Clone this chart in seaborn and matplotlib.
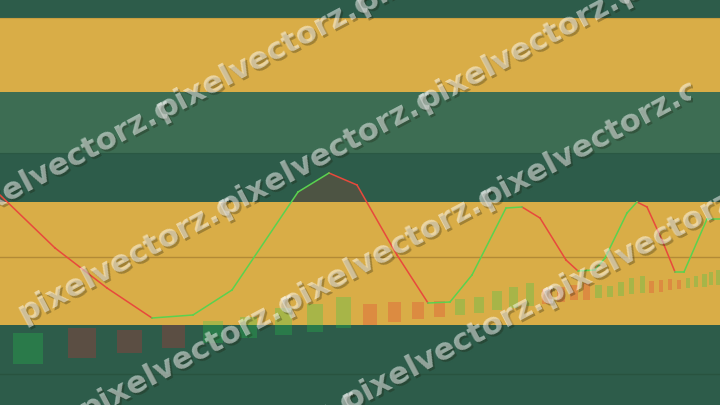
#%%
import numpy as np
import pandas as pd
import matplotlib
matplotlib.use('Agg')
import matplotlib.pyplot as plt
import matplotlib.transforms as mtransforms
from matplotlib.patches import Rectangle
import seaborn as sns

# linha de preço (dia, preço)
dias = [0.0, 5.5, 10.7, 15.2, 19.3, 23.2, 29.8, 32.9, 35.7, 39.7, 42.8, 45.0,
        47.2, 50.6, 52.2, 54.0, 56.6, 57.8, 59.5, 60.5, 62.7, 63.7, 64.7,
        66.2, 67.5, 68.4, 70.7, 72.0]
precos = [210, 157, 117, 87, 90, 115, 213, 232, 220, 150, 102, 103,
          130, 197, 198, 187, 145, 134, 135, 147, 192, 203, 198,
          165, 133, 133, 186, 186]

# barras de volume
vol_x = [2.8, 8.2, 12.95, 17.35, 21.3, 24.85, 28.35, 31.5, 34.35, 37.0, 39.45,
         41.8, 43.95, 46.0, 47.9, 49.7, 51.35, 53.0, 54.7, 56.1, 57.4, 58.65,
         59.85, 61.0, 62.1, 63.15, 64.25, 65.15, 66.1, 67.0, 67.9, 68.8, 69.6,
         70.45, 71.1, 71.8]
vol_w = [3.0, 2.8, 2.5, 2.3, 2.0, 1.7, 1.7, 1.6, 1.5, 1.4, 1.3, 1.2, 1.1, 1.0,
         1.0, 1.0, 0.9, 0.8, 1.0, 0.8, 0.8, 0.7, 0.7, 0.6, 0.6, 0.5, 0.5, 0.5,
         0.4, 0.4, 0.4, 0.4, 0.4, 0.5, 0.4, 0.4]
vol_base = [41, 47, 52, 57, 62, 67, 70, 73, 77, 80, 83, 86, 88, 90, 92, 95, 97,
            99, 101, 103, 105, 105, 107, 108, 109, 111, 112, 112, 113, 115, 116,
            117, 118, 118, 120, 120]
vol_topo = [72, 77, 75, 80, 84, 88, 97, 101, 108, 101, 103, 103, 104, 106, 108,
            114, 118, 122, 116, 118, 120, 122, 120, 119, 123, 127, 129, 124, 125,
            126, 125, 127, 129, 131, 133, 135]
vol_alta = [1, 0, 0, 0, 1, 1, 1, 1, 1, 0, 0, 0, 0, 1, 1, 1, 1, 1, 0, 0, 0, 0,
            1, 1, 1, 1, 1, 0, 0, 0, 0, 1, 1, 1, 1, 1]

# faixas de fundo
faixas_y = [405, 387, 313, 252, 203, 80, 0]
faixas_cor = ['#2d5c4a', '#d9ad47', '#3d6d53', '#2d5c4a', '#d9ad47', '#2d5c4a']
linhas_ref = [148, 31]
linhas_cor = ['#b38a36', '#28533f']
limite_area = 203

marca = 'pixelvectorz.com'

#%%
segs = []
for i in range(len(dias) - 1):
    sentido = 'alta' if precos[i + 1] >= precos[i] else 'baixa'
    segs.append((i, dias[i], precos[i], sentido))
    segs.append((i, dias[i + 1], precos[i + 1], sentido))
df_linha = pd.DataFrame(segs, columns=['seg', 'dia', 'preco', 'sentido'])

fig = plt.figure(figsize=(7.2, 4.05), dpi=100)
ax = fig.add_axes([0, 0, 1, 1])

for topo, base, cor in zip(faixas_y[:-1], faixas_y[1:], faixas_cor):
    ax.axhspan(base, topo, color=cor, lw=0, zorder=0)
for y, cor in zip(linhas_ref, linhas_cor):
    ax.axhline(y, color=cor, lw=1, zorder=1)
ax.axhline(faixas_y[1], color='#c99d3e', lw=0.8, zorder=1)
ax.axhline(faixas_y[3], color='#2a5843', lw=0.8, zorder=1)

p = np.array(precos)
ax.fill_between(dias, p, limite_area, where=p > limite_area, interpolate=True,
                color='#c0392b', alpha=0.22, lw=0, zorder=2)

cores_vol = ['#23cd4b' if a else '#e62832' for a in vol_alta]
alfas = [0.27 if a else 0.25 for a in vol_alta]
barras = ax.bar(vol_x, np.subtract(vol_topo, vol_base), width=vol_w,
                bottom=vol_base, color=cores_vol, lw=0, zorder=3)
for b, a in zip(barras, alfas):
    b.set_alpha(a)

sns.lineplot(data=df_linha, x='dia', y='preco', hue='sentido', units='seg',
             estimator=None, sort=False, palette={'alta': '#5ad24f', 'baixa': '#e8493c'},
             lw=1.1, legend=False, ax=ax, zorder=4)

ax.set_xlim(0, 72)
ax.set_ylim(0, 405)
ax.axis('off')

# marca d'água (ladrilhos recortados)
ident = mtransforms.IdentityTransform()
ang = 27.9
passo = 223.0  # largura de cada ladrilho ao longo da linha
ca, sa = np.cos(np.radians(ang)), np.sin(np.radians(ang))

# mede a largura do texto para ajustar o tamanho da fonte
medida = fig.text(0, 0, 'pixelvectorz.', fontsize=22, fontweight='bold', family='DejaVu Sans')
fig.canvas.draw()
larg = medida.get_window_extent().width
medida.remove()
tam = 22 * passo / larg

for r in range(4):
    for k in range(-2, 4):
        mx = 162 + k * 200 + r * 62
        my = 405 - (120 - k * 106 + r * 97)
        if mx < -100 or mx > 660:
            continue
        for dx, dy, cor, alfa in [(1.6, -1.6, '#1a1a0a', 0.3), (0, 0, 'white', 0.5)]:
            ax0, ay0 = mx + dx, my + dy
            cx = ax0 - 4 * ca + 12 * sa
            cy = ay0 - 4 * sa - 12 * ca
            recorte = Rectangle((cx, cy), passo + 7, 48, angle=ang, transform=ident)
            t = fig.text(ax0, ay0, marca, transform=ident, rotation=ang,
                         rotation_mode='anchor', ha='left', va='baseline', fontsize=tam,
                         fontweight='bold', family='DejaVu Sans', color=cor, alpha=alfa)
            t.set_clip_path(recorte)

fig.savefig('out.png', dpi=100)
